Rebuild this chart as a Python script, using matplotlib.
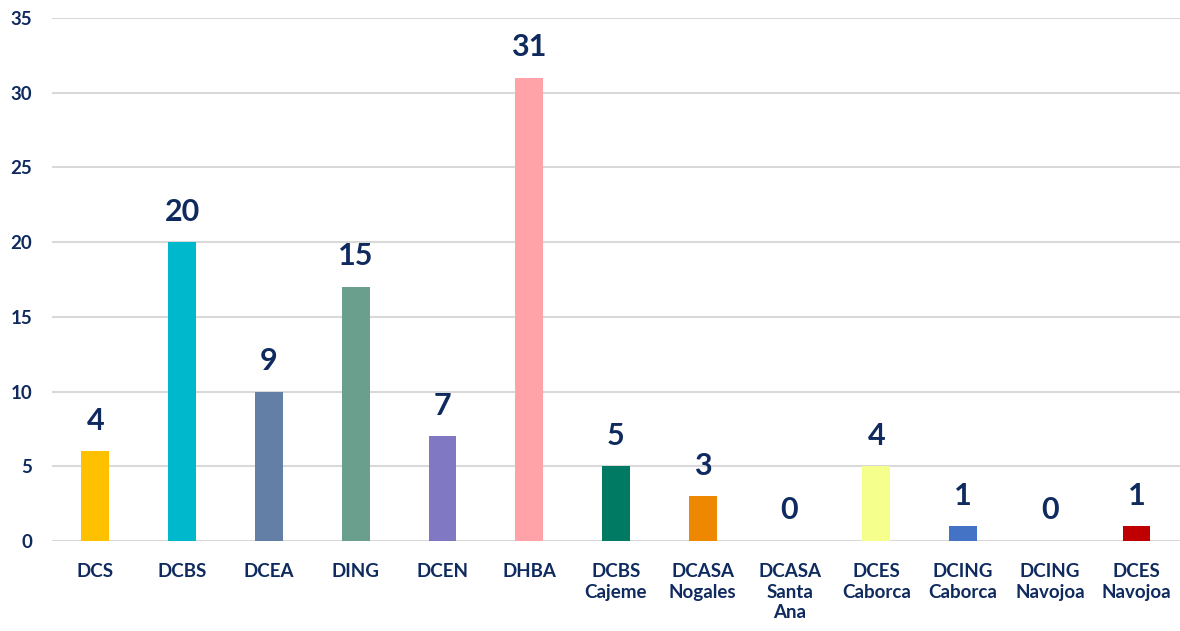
import numpy as np
import matplotlib.pyplot as plt

# categorias y valores
categorias = ["DCS", "DCBS", "DCEA", "DING", "DCEN", "DHBA", "DCBS\nCajeme",
              "DCASA\nNogales", "DCASA\nSanta\nAna", "DCES\nCaborca",
              "DCING\nCaborca", "DCING\nNavojoa", "DCES\nNavojoa"]
alturas = [6, 20, 10, 17, 7, 31, 5, 3, 0, 5, 1, 0, 1]
etiquetas = [4, 20, 9, 15, 7, 31, 5, 3, 0, 4, 1, 0, 1]
colores = ["#FFC000", "#00B8CC", "#637FA6", "#6A9F8E", "#8078C2", "#FFA3A8",
           "#007A63", "#EE8800", "#A5A5A5", "#F5FF8C", "#4472C4", "#A5A5A5",
           "#C00000"]
azul = "#0F2A5E"

plt.rcParams['font.family'] = ['Lato', 'DejaVu Sans']

fig = plt.figure(figsize=(11.8, 6.31), dpi=100)
ax = fig.add_axes([0.044, 0.1426, 0.956, 0.8289])

x = np.arange(len(categorias))
ax.bar(x, alturas, width=0.32, color=colores, zorder=3)

for xi, h, e in zip(x, alturas, etiquetas):
    ax.annotate(str(e), (xi, h), xytext=(0, 15.5), textcoords="offset points",
                ha="center", va="baseline", fontsize=22, fontweight="bold",
                color=azul)

ax.set_xlim(-0.5, len(categorias) - 0.5)
ax.set_ylim(0, 35)
ax.set_yticks(np.arange(0, 36, 5))
ax.set_xticks(x)
ax.set_xticklabels(categorias, fontsize=13.5, fontweight="bold", color=azul,
                   linespacing=1.25)
for t in ax.get_yticklabels():
    t.set_fontsize(13.5)
    t.set_fontweight("bold")
    t.set_color(azul)

ax.grid(axis="y", color="#D9D9D9", linewidth=1.5, zorder=0)
ax.tick_params(axis="x", length=0, pad=16)
ax.tick_params(axis="y", length=0, pad=14)
for s in ax.spines.values():
    s.set_visible(False)

plt.savefig("out.png", dpi=100)
